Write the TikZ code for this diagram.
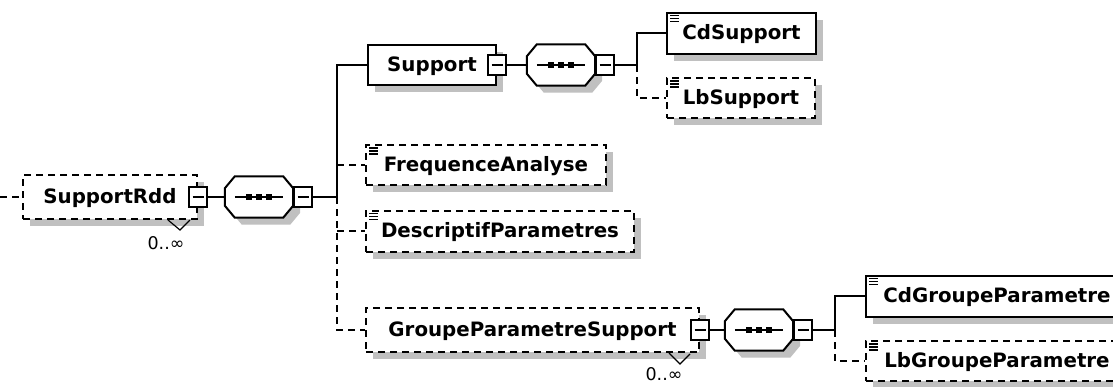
\documentclass[tikz,border=0pt]{standalone}
\usepackage{fontspec}
\setmainfont{DejaVu Sans}
\usepackage{xcolor}
\usepackage{tikz}
\usetikzlibrary{shadows}

\definecolor{schatten}{HTML}{C0C0C0}

\tikzset{
  schattenwurf/.style={drop shadow={shadow xshift=7pt,shadow yshift=-7pt,fill=schatten,opacity=1}},
  elem/.style={draw,fill=white,line width=2pt,anchor=west,minimum height=41,inner sep=0pt,
    text height=14pt,text depth=1pt,font=\fontsize{19.8}{22}\selectfont\bfseries,schattenwurf},
  optbox/.style={dash pattern=on 7pt off 5pt},
  optline/.style={line width=1.8pt,dash pattern=on 7pt off 5pt},
  conn/.style={line width=1.8pt},
  minus/.style={draw,fill=white,line width=1.6pt,minimum width=18,minimum height=20,inner sep=0pt},
  seqbox/.style={minimum width=68,minimum height=41,inner sep=0pt},
  seqshape/.style={draw,fill=white,line width=2pt,schattenwurf},
  icon/.style={line width=1.2pt},
  occline/.style={line width=1.2pt},
  occ/.style={font=\fontsize{17.5}{19}\selectfont,inner sep=0pt}
}

\begin{document}
\begin{tikzpicture}[x=1pt,y=-1pt]

\fill[white] (0,0) rectangle (1113,386);
\useasboundingbox (0,0) rectangle (1113,386);
\clip (0,0) rectangle (1113,386);

\node[elem,optbox,minimum width=174,minimum height=44] (rdd) at (22,197) {SupportRdd\hspace{10pt}};	% Wurzelelement
\node[elem,minimum width=128,minimum height=40] (support) at (367,65) {Support\hspace{11pt}};
\node[elem,minimum width=149] (cdsupport) at (666,33) {CdSupport};
\node[elem,optbox,minimum width=148,minimum height=40] (lbsupport) at (666,98) {LbSupport};
\node[elem,optbox,minimum width=240,minimum height=40] (freq) at (365,165) {FrequenceAnalyse};
\node[elem,optbox,minimum width=268] (descr) at (365,231) {DescriptifParametres};
\node[elem,optbox,minimum width=333,minimum height=44] (groupe) at (365,330) {GroupeParametreSupport\hspace{17pt}};
\node[elem,minimum width=262] (cdgroupe) at (865,296) {CdGroupeParametre};	% rechts abgeschnitten
\node[elem,optbox,minimum width=262,minimum height=40] (lbgroupe) at (865,361) {LbGroupeParametre};

\node[seqbox] (seq1) at (259,197) {};	% Sequenzen
\node[seqbox] (seq2) at (561,65) {};
\node[seqbox] (seq3) at (759,330) {};

\foreach \s in {seq1,seq2,seq3}{
  \draw[seqshape] ([xshift=10pt]\s.north west) -- ([xshift=-10pt]\s.north east) -- ([yshift=-12pt]\s.north east)
    -- ([yshift=12pt]\s.south east) -- ([xshift=-10pt]\s.south east) -- ([xshift=10pt]\s.south west)
    -- ([yshift=12pt]\s.south west) -- ([yshift=-12pt]\s.north west) -- cycle;	% Achteck
  \draw[conn] ([xshift=10pt]\s.west) -- ([xshift=-10pt]\s.east);
  \foreach \d in {-10,0,10}
    \fill ([shift={(\d-3,-3)}]\s.center) rectangle ++(6,6);	% drei Punkte
}

\node[minus] (rdd-m) at (rdd.east) {\rule{11pt}{1.5pt}};	% Minus-Kaestchen
\node[minus] (support-m) at (support.east) {\rule{11pt}{1.5pt}};
\node[minus] (groupe-m) at (groupe.east) {\rule{11pt}{1.5pt}};
\node[minus,anchor=west] (seq1-m) at (seq1.east) {\rule{11pt}{1.5pt}};
\node[minus,anchor=west] (seq2-m) at (seq2.east) {\rule{11pt}{1.5pt}};
\node[minus,anchor=west] (seq3-m) at (seq3.east) {\rule{11pt}{1.5pt}};

\coordinate (in) at (0,197);
\coordinate (t1) at (337,197);
\coordinate (t2) at (637,65);
\coordinate (t3) at (835,330);

\draw[optline] (in) -- (rdd.west);	% Eingang
\draw[conn] (rdd-m.east) -- (seq1.west);
\draw[conn] (seq1-m.east) -- (t1);
\draw[conn] (t1) |- (support.west);
\draw[optline] (t1) |- (groupe.west);
\draw[optline] (t1 |- freq.west) -- (freq.west);
\draw[optline] (t1 |- descr.west) -- (descr.west);

\draw[conn] (support-m.east) -- (seq2.west);	% Support-Zweig
\draw[conn] (seq2-m.east) -- (t2);
\draw[conn] (t2) |- (cdsupport.west);
\draw[optline] (t2) |- (lbsupport.west);

\draw[conn] (groupe-m.east) -- (seq3.west);	% Groupe-Zweig
\draw[conn] (seq3-m.east) -- (t3);
\draw[conn] (t3) |- (cdgroupe.west);
\draw[optline] (t3) |- (lbgroupe.west);

\foreach \e in {cdsupport,lbsupport,freq,descr,cdgroupe,lbgroupe}
  \foreach \d in {4,7,10}
    \draw[icon] ([shift={(4,\d)}]\e.north west) -- ++(9,0);	% Symbol einfacher Typ

\draw[occline] ([xshift=-30pt]rdd.south east) -- ++(12,10) -- ++(10,-10);	% Kardinalitaet
\node[occ] (rdd-occ) at (166,243) {0..∞};
\draw[occline] ([xshift=-31pt]groupe.south east) -- ++(11,11) -- ++(10,-10);
\node[occ] (groupe-occ) at (664,374) {0..∞};

\end{tikzpicture}
\end{document}
